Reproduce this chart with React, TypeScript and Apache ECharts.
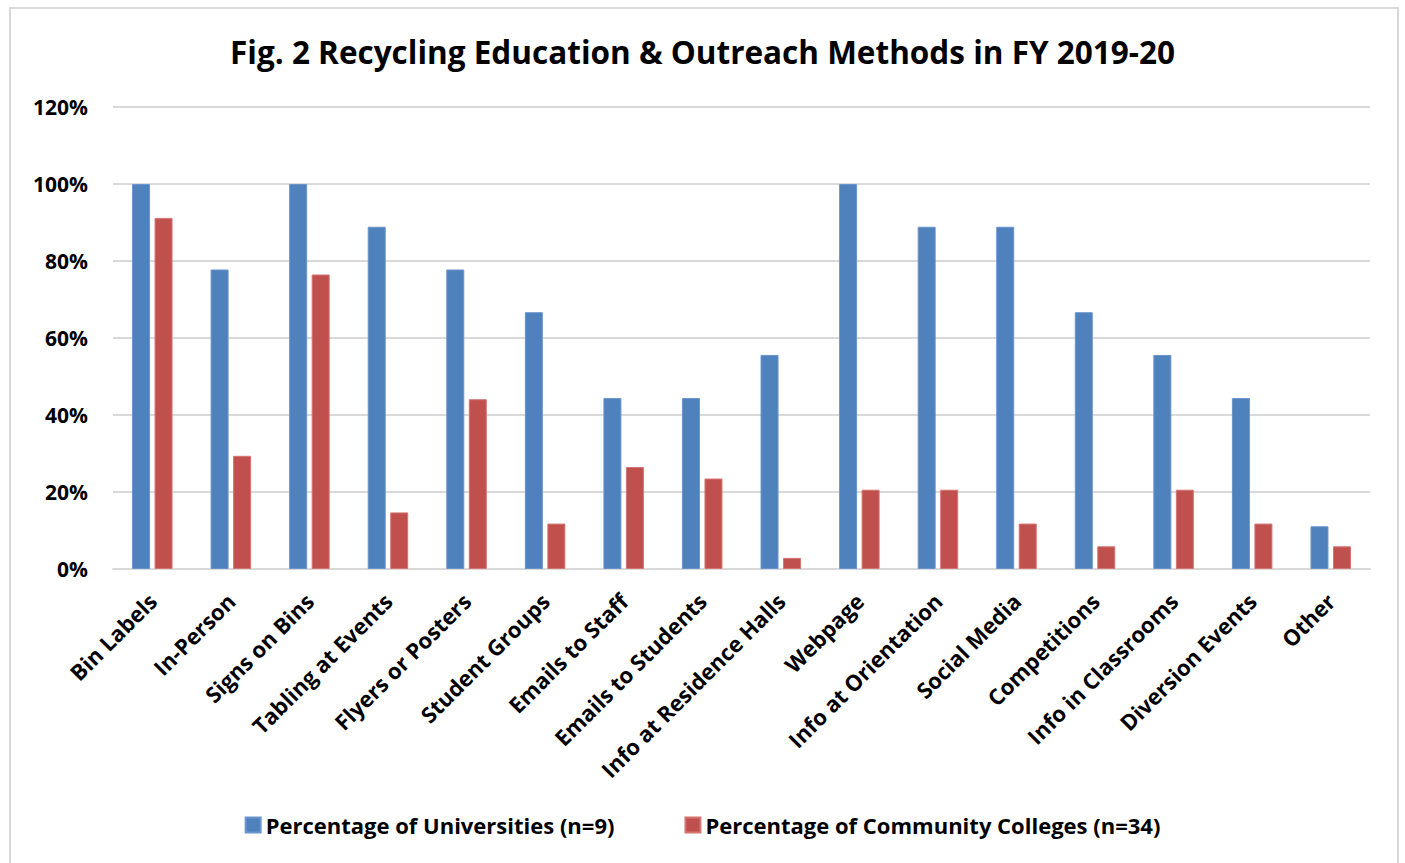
import React, { useEffect, useRef } from "react";
import * as echarts from "echarts";

const categories = [
  "Bin Labels",
  "In-Person",
  "Signs on Bins",
  "Tabling at Events",
  "Flyers or Posters",
  "Student Groups",
  "Emails to Staff",
  "Emails to Students",
  "Info at Residence Halls",
  "Webpage",
  "Info at Orientation",
  "Social Media",
  "Competitions",
  "Info in Classrooms",
  "Diversion Events",
  "Other",
];

const universities = [1.0, 0.778, 1.0, 0.889, 0.778, 0.667, 0.444, 0.444, 0.556, 1.0, 0.889, 0.889, 0.667, 0.556, 0.444, 0.111];
const communityColleges = [0.912, 0.294, 0.765, 0.147, 0.441, 0.118, 0.265, 0.235, 0.029, 0.206, 0.206, 0.118, 0.059, 0.206, 0.118, 0.059];

const seriesNames = ["Percentage of Universities (n=9)", "Percentage of Community Colleges (n=34)"];
const titleText = "Fig. 2 Recycling Education & Outreach Methods in FY 2019-20";

const FONT = "'Open Sans', Lato, sans-serif";

export default function App() {
  const ref = useRef<HTMLDivElement>(null);
  useEffect(() => {
    if (!ref.current) return;
    const chart = echarts.init(ref.current, undefined, { renderer: "svg" });
    chart.setOption({
      animation: false,
      backgroundColor: "#ffffff",
      textStyle: { fontFamily: FONT },
      title: {
        text: titleText,
        left: "center",
        top: 30,
        textStyle: { fontFamily: FONT, fontWeight: "bold", fontSize: 31.5, color: "#000" },
      },
      graphic: [
        {
          type: "rect",
          shape: { x: 10, y: 8, width: 1388, height: 870 },
          style: { fill: "none", stroke: "#D9D9D9", lineWidth: 2 },
          silent: true,
        },
      ],
      legend: {
        bottom: 22,
        left: "center",
        itemWidth: 15,
        itemHeight: 15,
        itemGap: 70,
        icon: "rect",
        textStyle: { fontFamily: FONT, fontWeight: "bold", fontSize: 22, color: "#000" },
        data: seriesNames,
      },
      grid: { left: 113, right: 35, top: 107, bottom: 294, containLabel: false },
      xAxis: {
        type: "category",
        data: categories,
        axisLine: { show: true, lineStyle: { color: "#D9D9D9", width: 2 } },
        axisTick: { show: false },
        axisLabel: {
          rotate: 45,
          interval: 0,
          margin: 28,
          color: "#000",
          fontFamily: FONT,
          fontWeight: "bold",
          fontSize: 22,
        },
      },
      yAxis: {
        type: "value",
        min: 0,
        max: 1.2,
        interval: 0.2,
        axisLine: { show: false },
        axisTick: { show: false },
        splitLine: { lineStyle: { color: "#D9D9D9", width: 2 } },
        axisLabel: {
          margin: 25,
          color: "#000",
          fontFamily: FONT,
          fontWeight: "bold",
          fontSize: 21,
          formatter: (v: number) => Math.round(v * 100) + "%",
        },
      },
      series: [
        {
          name: seriesNames[0],
          type: "bar",
          data: universities,
          barWidth: 18,
          barGap: "25%",
          itemStyle: { color: "#4F81BD", borderColor: "#6A95CC", borderWidth: 1 },
        },
        {
          name: seriesNames[1],
          type: "bar",
          data: communityColleges,
          barWidth: 18,
          itemStyle: { color: "#C0504D", borderColor: "#D47572", borderWidth: 1 },
        },
      ],
    });
    return () => chart.dispose();
  }, []);
  return (
    <div
      ref={ref}
      style={{ position: "fixed", left: 0, top: 0, width: 1405, height: 863, background: "#fff" }}
    />
  );
}
